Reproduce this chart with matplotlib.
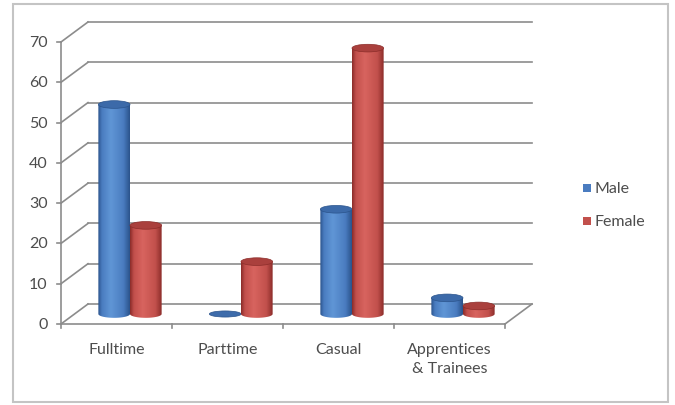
import numpy as np
import matplotlib
matplotlib.use("Agg")
from matplotlib import pyplot as plt
from matplotlib.patches import Ellipse, Polygon, Rectangle

categories = ["Fulltime", "Parttime", "Casual", "Apprentices\n& Trainees"]
series = ["Male", "Female"]
male = [52, 0, 26, 4]
female = [22, 13, 66, 2]
yticks = [0, 10, 20, 30, 40, 50, 60, 70]

# base colours (dark edge, highlight, mid) per series
palette = {
    "Male": ("#2b548c", "#6096d6", "#4a7cc0"),
    "Female": ("#8c2d2a", "#d8645f", "#c2504c"),
}

W, H = 675, 406
PX_X = 111.0            # pixels per category
PX_Y = 282.0 / 70       # pixels per value unit
DX = 27 / PX_X          # depth shift of the back wall, in data units
DY = 20 / PX_Y
BAR_W = 0.285
ELL_H = 1.9
GRID = "#8c8c8c"
TXT = "#4d4d4d"

plt.rcParams["font.family"] = ["Lato", "DejaVu Sans"]

fig = plt.figure(figsize=(W / 100, H / 100), dpi=100)
left_px, bottom_px = 61, 325
ax_w = (4 + DX) * PX_X
ax_h = (70 + DY) * PX_Y
ax = fig.add_axes([left_px / W, (H - bottom_px) / H, ax_w / W, ax_h / H])
ax.set_xlim(0, 4 + DX)
ax.set_ylim(0, 70 + DY)
ax.axis("off")

# outer chart border
fig.patches.append(Rectangle((13 / W, 3 / H), 655 / W, 398 / H, transform=fig.transFigure,
                             fill=False, edgecolor="#c4c4c4", linewidth=1.5))

# back wall gridlines and the slanted side lines
for v in yticks:
    ax.plot([DX, 4 + DX], [v + DY, v + DY], color=GRID, lw=1.2, clip_on=False, zorder=1)
    ax.plot([0, DX], [v, v + DY], color=GRID, lw=1.2, clip_on=False, zorder=1)
    ax.plot([-0.035, 0], [v, v], color=GRID, lw=1.2, clip_on=False, zorder=1)
    ax.text(-0.12, v, str(v), ha="right", va="center", fontsize=11.5, color=TXT)

# front axis + floor
ax.plot([0, 0], [0, 70], color=GRID, lw=1.2, clip_on=False, zorder=1)
ax.plot([0, 4], [0, 0], color=GRID, lw=1.2, clip_on=False, zorder=1)
ax.plot([4, 4 + DX], [0, DY], color=GRID, lw=1.2, clip_on=False, zorder=1)
for i in range(5):
    ax.plot([i, i], [0, -1.1], color=GRID, lw=1.2, clip_on=False, zorder=1)

for i, c in enumerate(categories):
    ax.text(i + 0.5, -4.5, c, ha="center", va="top", fontsize=11.5, color=TXT,
            linespacing=1.4)


def shade(name):
    dark, light, mid = [np.array(matplotlib.colors.to_rgb(x)) for x in palette[name]]
    stops = [0.0, 0.12, 0.4, 0.8, 1.0]
    cols = [dark, mid, light, mid, dark]
    t = np.linspace(0, 1, 64)
    img = np.stack([np.interp(t, stops, [c[k] for c in cols]) for k in range(3)], axis=-1)
    return img[np.newaxis, :, :], mid, dark


def cylinder(cx, value, name, z):
    img, mid, dark = shade(name)
    y0 = DY / 2
    y1 = value + DY / 2
    x0, x1 = cx - BAR_W / 2, cx + BAR_W / 2
    if value > 0:
        th = np.linspace(np.pi, 2 * np.pi, 40)
        bottom = np.column_stack([cx + BAR_W / 2 * np.cos(th), y0 + ELL_H / 2 * np.sin(th)])
        pts = np.vstack([bottom, [[x1, y1], [x0, y1]]])
        body = Polygon(pts, closed=True, facecolor="none", edgecolor="none", transform=ax.transData)
        ax.add_patch(body)
        im = ax.imshow(img, extent=(x0, x1, y0 - ELL_H / 2, y1), aspect="auto",
                       interpolation="bilinear", zorder=z, clip_on=True)
        im.set_clip_path(body)
        top_col = 0.55 * mid + 0.45 * dark
        ax.add_patch(Ellipse((cx, y1), BAR_W, ELL_H, facecolor=top_col,
                             edgecolor=dark, lw=0.5, zorder=z + 0.1, clip_on=False))
    else:
        ax.add_patch(Ellipse((cx, y0), BAR_W, ELL_H * 0.8, facecolor=0.6 * mid + 0.4 * dark,
                             edgecolor=dark, lw=0.5, zorder=z + 0.1, clip_on=False))


for i in range(len(categories)):
    base = i + 0.5 + DX / 2
    cylinder(base - BAR_W / 2, male[i], "Male", 3 + i)
    cylinder(base + BAR_W / 2, female[i], "Female", 3.5 + i)

# restore limits that imshow may have changed
ax.set_xlim(0, 4 + DX)
ax.set_ylim(0, 70 + DY)

# legend
for k, name in enumerate(series):
    ly = (H - 189 - 33 * k) / H
    fig.patches.append(Rectangle((583 / W, ly - 4 / H), 8 / W, 8 / H, transform=fig.transFigure,
                                 facecolor=palette[name][2], edgecolor="none"))
    fig.text(595 / W, ly, name, ha="left", va="center", fontsize=11.5, color=TXT)

fig.savefig("out.png", dpi=100, facecolor="white")
